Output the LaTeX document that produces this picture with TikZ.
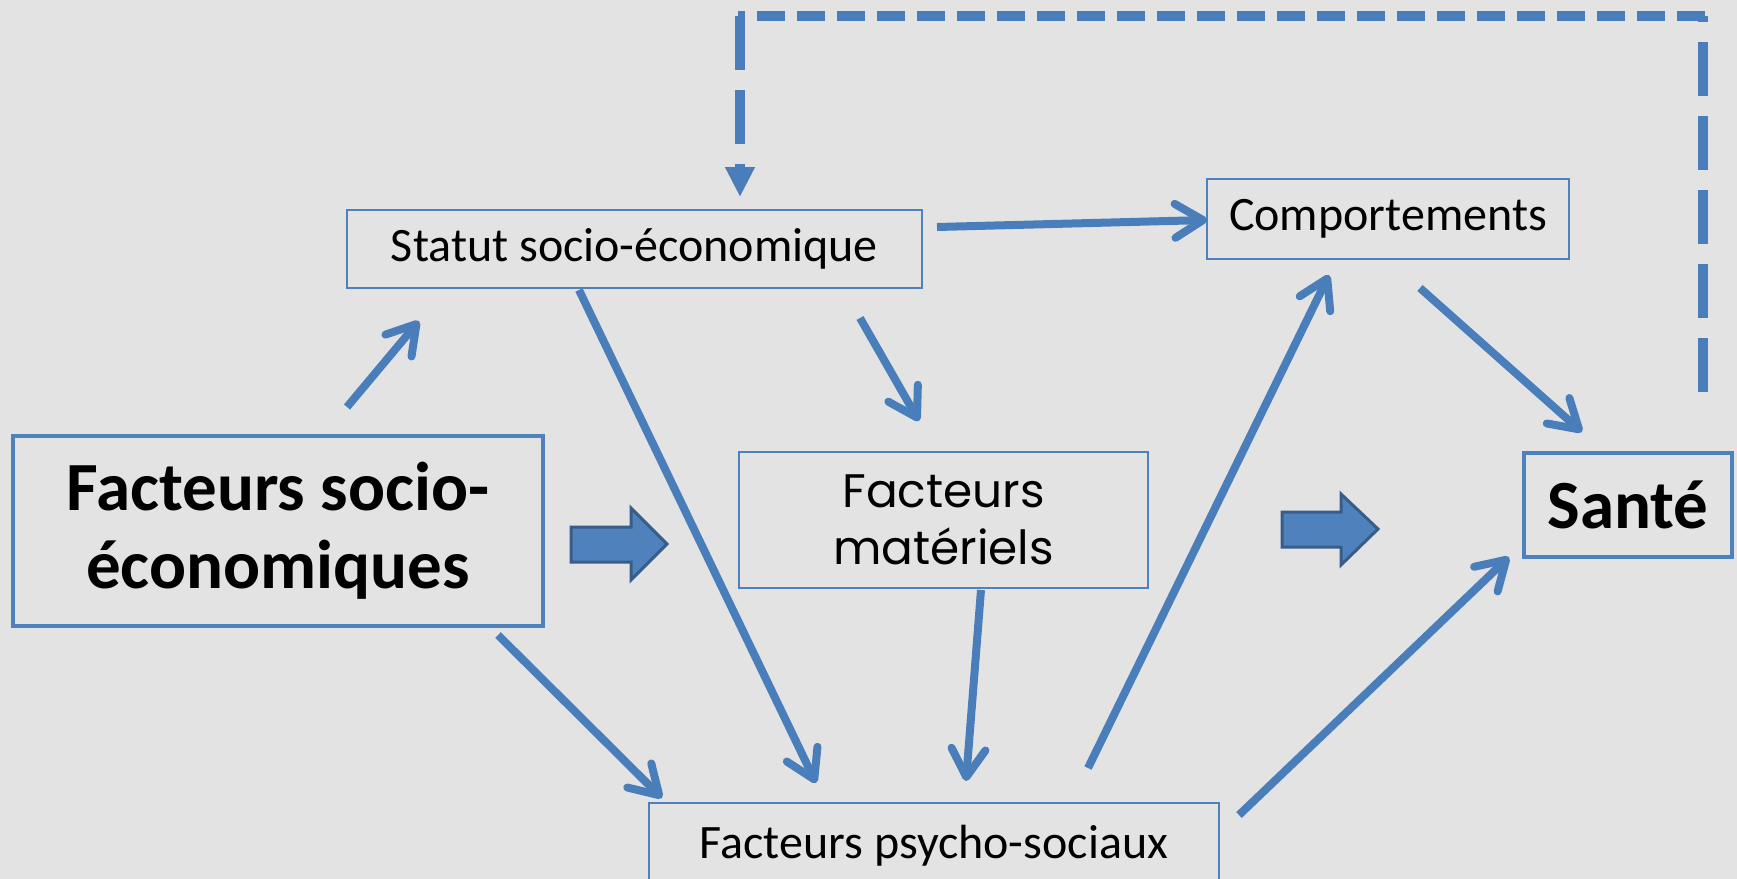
\documentclass[tikz,border=0pt]{standalone}
\usepackage{fontspec}
\setmainfont{Carlito}
\newfontfamily\gothic{Poppins}
\usetikzlibrary{arrows.meta}
\definecolor{bg}{HTML}{E3E3E3}
\definecolor{lblue}{HTML}{4A7EBB}
\definecolor{bblue}{HTML}{4F81BD}
\definecolor{dblue}{HTML}{385D8A}
\tikzset{
  thinbox/.style={draw=bblue, line width=1.3pt, inner sep=0pt, text=black,
    font=\fontsize{24}{28}\selectfont},
  thickbox/.style={draw=bblue, line width=2.3pt, inner sep=0pt, text=black, align=center,
    font=\fontsize{34.5}{39}\selectfont\bfseries},
  flow/.style={draw=lblue, line width=4pt,
    -{Straight Barb[length=14pt,width=17pt,round]}},
  dashv/.style={draw=lblue, line width=4.6pt, dash pattern=on 27pt off 10pt},
  dashh/.style={draw=lblue, line width=5pt, dash pattern=on 14pt off 6pt},
  block/.style={fill=bblue, draw=dblue, line width=1.5pt, line join=miter},
}
\begin{document}
\begin{tikzpicture}[x=0.5pt,y=-0.5pt]
\useasboundingbox (0,0) rectangle (1737,879);
\fill[bg] (0,0) rectangle (1737,879);

% nodes
\node[thickbox, minimum width=265pt, minimum height=95pt] (fse) at (278,531)
  {Facteurs socio-\\économiques};
\node[thinbox, minimum width=287.5pt, minimum height=39pt] (statut) at (634.5,249)
  {Statut socio-économique};
\node[thinbox, minimum width=181pt, minimum height=40pt] (comp) at (1388,219)
  {Comportements};
\node[thinbox, minimum width=204.5pt, minimum height=68pt, align=center,
  font=\gothic\fontsize{23.5}{28.5}\selectfont] (mat) at (943.5,520)
  {Facteurs\\matériels};
\node[thickbox, minimum width=104pt, minimum height=52pt] (sante) at (1628,505)
  {Santé};
\node[thinbox, minimum width=285pt, minimum height=43pt] (psy) at (934,846)
  {Facteurs psycho-sociaux};

% connector end points
\coordinate (a1s) at (347,407);  \coordinate (a1e) at (419,321);
\coordinate (a2s) at (937,227);  \coordinate (a2e) at (1207,220);
\coordinate (a3s) at (860,318);  \coordinate (a3e) at (919,421);
\coordinate (a4s) at (579,290);  \coordinate (a4e) at (816,783);
\coordinate (a5s) at (498,635);  \coordinate (a5e) at (662,798);
\coordinate (a6s) at (981,590);  \coordinate (a6e) at (966,781);
\coordinate (a7s) at (1088,768); \coordinate (a7e) at (1329,275);
\coordinate (a8s) at (1420,288); \coordinate (a8e) at (1582,432);
\coordinate (a9s) at (1239,815); \coordinate (a9e) at (1509,557);

\draw[flow] (a1s) -- (a1e);
\draw[flow] (a2s) -- (a2e);
\draw[flow] (a3s) -- (a3e);
\draw[flow] (a4s) -- (a4e);
\draw[flow] (a5s) -- (a5e);
\draw[flow] (a6s) -- (a6e);
\draw[flow] (a7s) -- (a7e);
\draw[flow] (a8s) -- (a8e);
\draw[flow] (a9s) -- (a9e);

% dashed feedback
\coordinate (d0) at (1703,392);
\coordinate (d1) at (1703,16);
\coordinate (d2) at (740,16);
\coordinate (d3) at (740,197);
\draw[dashv] (d0) -- (d1);
\draw[dashh] ([xshift=1pt]d1) -- ([xshift=-1pt]d2);
\draw[dashv, -{Triangle[length=15pt,width=14pt]}] (d2) -- (d3);

% block arrows
\draw[block] (571,527) -- (631,527) -- (631,508) -- (667,544) -- (631,580)
  -- (631,562) -- (571,562) -- cycle;
\draw[block] (1282,512) -- (1341,512) -- (1341,494) -- (1378,529) -- (1341,565)
  -- (1341,547) -- (1282,547) -- cycle;
\end{tikzpicture}
\end{document}
